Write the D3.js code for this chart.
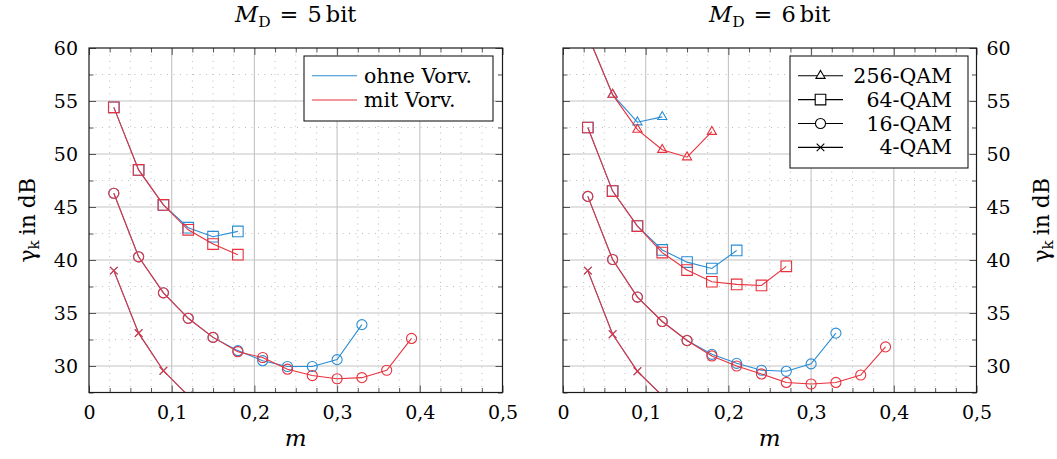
<!DOCTYPE html>
<html><head><meta charset="utf-8">
<script src="https://cdn.jsdelivr.net/npm/d3@7"></script>
<style>
body{margin:0;background:#fff}
svg{display:block}
text{font-family:"DejaVu Serif","Liberation Serif",serif;fill:#000}
</style>
</head><body>
<svg id="c" width="1057" height="459"></svg>
<script>
// ---------- data ----------
const mValues = [0.03,0.06,0.09,0.12,0.15,0.18,0.21,0.24,0.27,0.30,0.33,0.36,0.39];
const xTicks = [0,0.1,0.2,0.3,0.4,0.5];
const xTickLabels = ["0","0,1","0,2","0,3","0,4","0,5"];
const yTicks = [30,35,40,45,50,55,60];
const yTickLabels = ["30","35","40","45","50","55","60"];
const panelBits = ["5","6"];
const variantNames = ["ohne Vorv.","mit Vorv."];
const modulations = ["256-QAM","64-QAM","16-QAM","4-QAM"];

// M_D = 5 bit
const md5_qam64_ohne = [54.4,48.5,45.2,43.05,42.2,42.7];
const md5_qam64_mit  = [54.4,48.5,45.2,42.85,41.5,40.5];
const md5_qam16_ohne = [46.3,40.3,36.9,34.5,32.7,31.45,30.5,29.95,29.95,30.6,33.9];
const md5_qam16_mit  = [46.3,40.3,36.9,34.5,32.7,31.35,30.8,29.7,29.1,28.8,28.9,29.6,32.6];
const md5_qam4_ohne  = [39.0,33.1,29.55,27.2];
const md5_qam4_mit   = [39.0,33.1,29.55,27.2];

// M_D = 6 bit
const md6_qam256_ohne = [61.2,55.6,53.0,53.5];
const md6_qam256_mit  = [61.2,55.6,52.3,50.4,49.7,52.1];
const md6_qam64_ohne  = [52.5,46.5,43.2,40.95,39.8,39.2,40.9];
const md6_qam64_mit   = [52.5,46.5,43.2,40.7,39.05,37.95,37.7,37.6,39.4];
const md6_qam16_ohne  = [46.0,40.05,36.5,34.2,32.4,31.1,30.25,29.6,29.5,30.2,33.1];
const md6_qam16_mit   = [46.0,40.05,36.5,34.2,32.4,30.95,30.0,29.25,28.45,28.3,28.45,29.15,31.8];
const md6_qam4_ohne   = [39.0,33.0,29.5,27.2];
const md6_qam4_mit    = [39.0,33.0,29.5,27.2];

// ---------- layout ----------
const colors = ["#2a8dd4","#e8313c"];
const svg = d3.select("#c");
const yTop = 48, yBot = 392.5;
const yScale = d3.scaleLinear().domain([27.5,60]).range([yBot,yTop]);

const panels = [
  {x0:89, x1:502.5, side:"left", bits:panelBits[0], series:[
    {mod:"64-QAM",v:0,values:md5_qam64_ohne},{mod:"16-QAM",v:0,values:md5_qam16_ohne},{mod:"4-QAM",v:0,values:md5_qam4_ohne},
    {mod:"64-QAM",v:1,values:md5_qam64_mit},{mod:"16-QAM",v:1,values:md5_qam16_mit},{mod:"4-QAM",v:1,values:md5_qam4_mit}
  ]},
  {x0:563, x1:976.5, side:"right", bits:panelBits[1], series:[
    {mod:"256-QAM",v:0,values:md6_qam256_ohne},{mod:"64-QAM",v:0,values:md6_qam64_ohne},{mod:"16-QAM",v:0,values:md6_qam16_ohne},{mod:"4-QAM",v:0,values:md6_qam4_ohne},
    {mod:"256-QAM",v:1,values:md6_qam256_mit},{mod:"64-QAM",v:1,values:md6_qam64_mit},{mod:"16-QAM",v:1,values:md6_qam16_mit},{mod:"4-QAM",v:1,values:md6_qam4_mit}
  ]}
];

function markerPath(mod){
  const r = 5.3;
  if(mod==="256-QAM"){
    const a=r*0.866, b=r*0.5;
    return `M0,${-r}L${a},${b}L${-a},${b}Z`;
  }
  if(mod==="64-QAM") return `M${-r},${-r}H${r}V${r}H${-r}Z`;
  if(mod==="16-QAM"){const p=d3.path();p.arc(0,0,r*0.95,0,2*Math.PI);p.closePath();return p.toString();}
  const c=r*0.72;
  return `M${-c},${-c}L${c},${c}M${-c},${c}L${c},${-c}`;
}

const minorX = d3.range(0,0.5001,0.025);
const minorY = d3.range(27.5,60.001,2.5);
const isMajorX = v => Math.abs(v*10 - Math.round(v*10))<1e-6;
const isMajorY = v => Math.abs(v/5 - Math.round(v/5))<1e-6;

panels.forEach((P,pi)=>{
  const x = d3.scaleLinear().domain([0,0.5]).range([P.x0,P.x1]);
  const g = svg.append("g");
  const clipId = "clip"+pi;
  svg.append("clipPath").attr("id",clipId).append("rect")
    .attr("x",P.x0).attr("y",yTop).attr("width",P.x1-P.x0).attr("height",yBot-yTop);

  // minor grid (dotted)
  g.selectAll(null).data(minorX.filter(v=>!isMajorX(v))).join("line")
    .attr("x1",d=>x(d)).attr("x2",d=>x(d)).attr("y1",yTop).attr("y2",yBot)
    .attr("stroke","#b4b4b4").attr("stroke-width",0.9).attr("stroke-dasharray","1,5.5");
  g.selectAll(null).data(minorY.filter(v=>!isMajorY(v))).join("line")
    .attr("y1",d=>yScale(d)).attr("y2",d=>yScale(d)).attr("x1",P.x0).attr("x2",P.x1)
    .attr("stroke","#b4b4b4").attr("stroke-width",0.9).attr("stroke-dasharray","1,5.5");
  // major grid
  g.selectAll(null).data(xTicks.slice(1,-1)).join("line")
    .attr("x1",d=>x(d)).attr("x2",d=>x(d)).attr("y1",yTop).attr("y2",yBot)
    .attr("stroke","#c4c4c4").attr("stroke-width",1.1);
  g.selectAll(null).data(yTicks.slice(0,-1)).join("line")
    .attr("y1",d=>yScale(d)).attr("y2",d=>yScale(d)).attr("x1",P.x0).attr("x2",P.x1)
    .attr("stroke","#c4c4c4").attr("stroke-width",1.1);

  // ticks (inward) via d3 axes
  const tickCol = "#555";
  function styleAxis(sel){ sel.select(".domain").remove(); sel.selectAll(".tick line").attr("stroke",tickCol); sel.selectAll("text").attr("fill","#000").style("font-family",'"DejaVu Serif",serif'); }
  const axB = g.append("g").attr("transform",`translate(0,${yBot})`)
    .call(d3.axisBottom(x).tickValues(xTicks).tickFormat((d,i)=>xTickLabels[i]).tickSize(-7).tickPadding(13));
  styleAxis(axB); axB.selectAll("text").attr("font-size",19);
  const axBm = g.append("g").attr("transform",`translate(0,${yBot})`)
    .call(d3.axisBottom(x).tickValues(minorX.filter(v=>!isMajorX(v))).tickFormat("").tickSize(-4.5));
  styleAxis(axBm);
  const axT = g.append("g").attr("transform",`translate(0,${yTop})`)
    .call(d3.axisTop(x).tickValues(xTicks).tickFormat("").tickSize(-7));
  styleAxis(axT);
  const axTm = g.append("g").attr("transform",`translate(0,${yTop})`)
    .call(d3.axisTop(x).tickValues(minorX.filter(v=>!isMajorX(v))).tickFormat("").tickSize(-4.5));
  styleAxis(axTm);
  const labeledLeft = P.side==="left";
  const axL = g.append("g").attr("transform",`translate(${P.x0},0)`)
    .call(d3.axisLeft(yScale).tickValues(yTicks).tickFormat(labeledLeft?((d,i)=>yTickLabels[i]):"").tickSize(-7).tickPadding(11));
  styleAxis(axL); axL.selectAll("text").attr("font-size",19);
  const axLm = g.append("g").attr("transform",`translate(${P.x0},0)`)
    .call(d3.axisLeft(yScale).tickValues(minorY.filter(v=>!isMajorY(v))).tickFormat("").tickSize(-4.5));
  styleAxis(axLm);
  const axR = g.append("g").attr("transform",`translate(${P.x1},0)`)
    .call(d3.axisRight(yScale).tickValues(yTicks).tickFormat(labeledLeft?"":((d,i)=>yTickLabels[i])).tickSize(-7).tickPadding(10));
  styleAxis(axR); axR.selectAll("text").attr("font-size",19);
  const axRm = g.append("g").attr("transform",`translate(${P.x1},0)`)
    .call(d3.axisRight(yScale).tickValues(minorY.filter(v=>!isMajorY(v))).tickFormat("").tickSize(-4.5));
  styleAxis(axRm);

  // data
  const plot = g.append("g").attr("clip-path",`url(#${clipId})`);
  const line = d3.line().x((d,i)=>x(mValues[i])).y(d=>yScale(d));
  P.series.forEach(s=>{
    const sg = plot.append("g");
    sg.append("path").attr("d",line(s.values)).attr("fill","none")
      .attr("stroke",colors[s.v]).attr("stroke-width",1.1);
    sg.selectAll(null).data(s.values).join("path")
      .attr("transform",(d,i)=>`translate(${x(mValues[i])},${yScale(d)})`)
      .attr("d",markerPath(s.mod)).attr("fill","none")
      .attr("stroke",colors[s.v]).attr("stroke-width",1.1);
  });

  // frame
  g.append("rect").attr("x",P.x0).attr("y",yTop).attr("width",P.x1-P.x0).attr("height",yBot-yTop)
    .attr("fill","none").attr("stroke","#1a1a1a").attr("stroke-width",1.2);

  // title
  const cx = (P.x0+P.x1)/2;
  const t = g.append("text").attr("x",cx).attr("y",22).attr("text-anchor","middle").attr("font-size",22.5);
  t.append("tspan").attr("font-style","italic").text("M");
  t.append("tspan").attr("font-size",15.5).attr("dy",5).text("D");
  t.append("tspan").attr("dy",-5).attr("dx",9).text("=");
  t.append("tspan").attr("dx",9).text(P.bits);
  t.append("tspan").attr("dx",4).text("bit");

  // x label
  g.append("text").attr("x",cx).attr("y",446).attr("text-anchor","middle")
    .attr("font-size",23).attr("font-style","italic").text("m");

  // y label
  const lx = labeledLeft ? 35 : 1049;
  const yl = g.append("text").attr("transform",`translate(${lx},${(yTop+yBot)/2}) rotate(-90)`)
    .attr("text-anchor","middle").attr("font-size",22);
  yl.append("tspan").text("γ");
  yl.append("tspan").attr("font-size",15).attr("dy",4).text("k");
  yl.append("tspan").attr("dy",-4).attr("dx",5).text("in");
  yl.append("tspan").attr("dx",6).text("dB");

  // legends
  if(pi===0){
    const L = g.append("g");
    L.append("rect").attr("x",304).attr("y",56).attr("width",189).attr("height",65)
      .attr("fill","#fff").attr("stroke","#1a1a1a").attr("stroke-width",1.1);
    variantNames.forEach((n,i)=>{
      const yy = 75.7 + i*24.3;
      L.append("line").attr("x1",312).attr("x2",357).attr("y1",yy).attr("y2",yy)
        .attr("stroke",colors[i]).attr("stroke-width",1.1);
      L.append("text").attr("x",364).attr("y",yy+7).attr("font-size",20.5).text(n);
    });
  } else {
    const L = g.append("g");
    L.append("rect").attr("x",790).attr("y",56).attr("width",178).attr("height",112)
      .attr("fill","#fff").attr("stroke","#1a1a1a").attr("stroke-width",1.1);
    modulations.forEach((n,i)=>{
      const yy = 75.7 + i*23.9;
      L.append("line").attr("x1",798).attr("x2",843).attr("y1",yy).attr("y2",yy)
        .attr("stroke","#000").attr("stroke-width",1.1);
      L.append("path").attr("transform",`translate(820.5,${yy})`).attr("d",markerPath(n))
        .attr("fill","#fff").attr("stroke","#000").attr("stroke-width",1.1);
      L.append("text").attr("x",952).attr("y",yy+7).attr("text-anchor","end").attr("font-size",20.5).text(n);
    });
  }
});
</script>
</body></html>
